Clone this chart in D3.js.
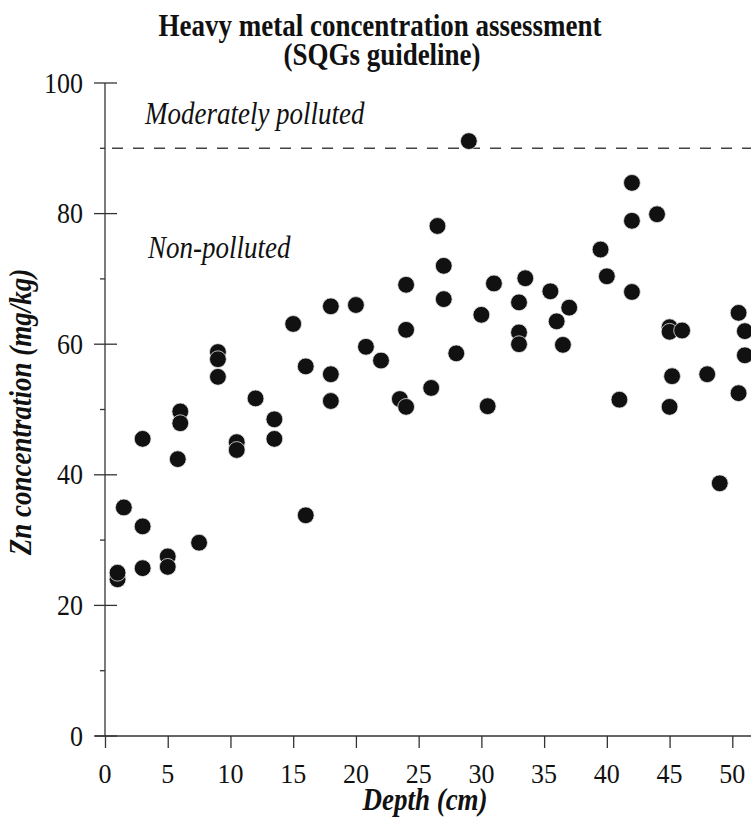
<!DOCTYPE html>
<meta charset="utf-8">
<style>
body { margin: 0; background: #fff; }
svg text { font-family: "Liberation Serif", "Times New Roman", serif; fill: #111; }
.axis line, .axis path { stroke: #333; stroke-width: 1.3; }
</style>
<body>
<svg id="chart" width="751" height="820"></svg>
<script src="https://d3js.org/d3.v7.min.js"></script>
<script>

// depth (cm) and Zn concentration (mg/kg)
var depth = [1, 1, 1.5, 3, 3, 3, 5, 5, 5.8, 6, 6, 7.5, 9, 9, 9, 10.5, 10.5, 12, 13.5, 13.5,
  15, 16, 16, 18, 18, 18, 20, 20.8, 22, 23.5, 24, 24, 24, 26, 26.5, 27, 27, 28, 29, 30,
  30.5, 31, 33, 33, 33, 33.5, 35.5, 36, 36.5, 37, 39.5, 40, 41, 42, 42, 42, 44, 45, 45, 46,
  45.2, 45, 48, 49, 50.5, 51, 51, 50.5];
var zn = [24.0, 25.0, 35.0, 45.5, 32.1, 25.7, 27.5, 25.9, 42.4, 49.7, 47.9, 29.6, 58.8, 57.7, 55.0, 45.0, 43.8, 51.7, 48.5, 45.5,
  63.1, 56.6, 33.8, 65.8, 55.4, 51.3, 66.0, 59.6, 57.5, 51.6, 50.4, 62.2, 69.1, 53.3, 78.1, 72.0, 66.9, 58.6, 91.1, 64.5,
  50.5, 69.3, 66.4, 61.8, 60.0, 70.1, 68.1, 63.5, 59.9, 65.6, 74.5, 70.4, 51.5, 84.7, 78.9, 68.0, 79.9, 62.6, 61.9, 62.1,
  55.1, 50.4, 55.4, 38.7, 64.8, 62.0, 58.3, 52.5];

var xTicks = [0, 5, 10, 15, 20, 25, 30, 35, 40, 45, 50];
var yMajor = [0, 20, 40, 60, 80, 100];
var yMinor = [10, 30, 50, 70, 90];
var threshold = 90;

var svg = d3.select("#chart");

var x = d3.scaleLinear().domain([0, 50]).range([105, 732.3]);
var y = d3.scaleLinear().domain([0, 100]).range([736, 83]);

// text in the figure is slightly tall and narrow, so stretch it vertically
function label(txt, px, py, size, style, anchor, rot, sy) {
  var t = "translate(" + px + "," + py + ")" + (rot ? " rotate(" + rot + ")" : "") + " scale(1," + (sy || 1.15) + ")";
  return svg.append("text")
    .attr("transform", t)
    .attr("text-anchor", anchor || "middle")
    .style("font-size", size + "px")
    .style("font-weight", style.indexOf("b") >= 0 ? "bold" : "normal")
    .style("font-style", style.indexOf("i") >= 0 ? "italic" : "normal")
    .text(txt);
}

// x axis
var xAxis = svg.append("g")
  .attr("class", "axis")
  .attr("transform", "translate(0," + y(0) + ")")
  .call(d3.axisBottom(x).tickValues(xTicks).tickSize(12).tickFormat(""));
xAxis.select(".domain").remove();
xAxis.append("line").attr("x1", 95).attr("x2", 760);

xTicks.forEach(function(d) {
  label(d, x(d), 783, 26, "", "middle", 0, 1.08);
});

// y axis
var yAxis = svg.append("g").attr("class", "axis");
yAxis.append("line").attr("x1", x(0)).attr("x2", x(0)).attr("y1", y(100)).attr("y2", y(0));
yAxis.selectAll(".major")
  .data(yMajor)
  .enter().append("line")
    .attr("x1", x(0) - 11).attr("x2", x(0) + 12)
    .attr("y1", function(d) { return y(d); })
    .attr("y2", function(d) { return y(d); });
yAxis.selectAll(".minor")
  .data(yMinor)
  .enter().append("line")
    .attr("x1", x(0) - 5).attr("x2", x(0))
    .attr("y1", function(d) { return y(d); })
    .attr("y2", function(d) { return y(d); });

yMajor.forEach(function(d) {
  label(d, 83, y(d) + 9.5, 26, "", "end", 0, 1.1);
});

// guideline
svg.append("line")
  .attr("x1", x(0) + 7).attr("x2", 760)
  .attr("y1", y(threshold)).attr("y2", y(threshold))
  .style("stroke", "#444")
  .style("stroke-width", 1.5)
  .style("stroke-dasharray", "11,10");

label("Moderately polluted", 145, 124, 27, "i", "start");
label("Non-polluted", 148, 258, 27, "i", "start");

// points
svg.selectAll(".dot")
  .data(depth.map(function(d, i) { return {d: d, v: zn[i]}; }))
  .enter().append("circle")
    .attr("class", "dot")
    .attr("cx", function(p) { return x(p.d); })
    .attr("cy", function(p) { return y(p.v); })
    .attr("r", 8.4)
    .style("fill", "#111")
    .style("stroke", "#e6e6e6")
    .style("stroke-width", 0.8);

// titles
label("Heavy metal concentration assessment", 380, 36, 27, "b", "middle");
label("(SQGs guideline)", 382, 65, 27, "b", "middle");
label("Depth (cm)", 425, 810, 27, "bi", "middle");
label("Zn concentration (mg/kg)", 31, 412, 27, "bi", "middle", -90);

</script>
</body>
